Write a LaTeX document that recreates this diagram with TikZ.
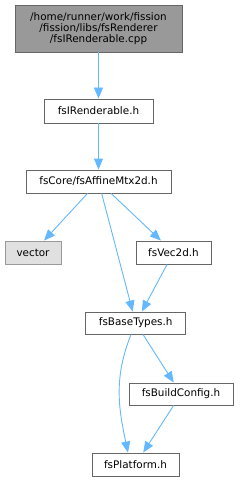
\documentclass[tikz,border=0pt]{standalone}
\usepackage{fontspec}
\setmainfont{DejaVu Sans}
\usetikzlibrary{arrows.meta,positioning}
\definecolor{edgeblue}{HTML}{63B8FF}
\definecolor{boxline}{HTML}{666666}
\begin{document}
\begin{tikzpicture}[
  x=1pt, y=-1pt,
  font=\fontsize{10.4}{11}\selectfont,
  node distance=0.38cm,
  file/.style={draw=boxline, fill=white, line width=0.9pt, align=center,
               inner sep=0pt, minimum height=23pt},
  sys/.style={file, draw=black!40, fill=black!12},
  edge/.style={draw=edgeblue, line width=0.9pt, -{Triangle[length=11pt,width=9pt]}}
]
\useasboundingbox (0,0) rectangle (239,481);
\node[file, fill=black!40, minimum width=167pt, minimum height=47pt] (src) at (98.5,28.5)
  {/home/runner/work/fission\\/fission/libs/fsRenderer\\/fsIRenderable.cpp};
\node[file, minimum width=109pt, minimum height=24pt] (irend) at (98.5,111) {fsIRenderable.h};
\node[file, minimum width=145pt] (mtx) at (98.5,181.5) {fsCore/fsAffineMtx2d.h};
\node[sys, minimum width=56pt] (vec) at (33,252.5) {vector};
\node[file, minimum width=75pt] (vec2d) at (173.5,252.5) {fsVec2d.h};
\node[file, minimum width=100pt, minimum height=22pt] (base) at (135.7,323) {fsBaseTypes.h};
\node[file, minimum width=104pt, minimum height=22pt] (cfg) at (181,394) {fsBuildConfig.h};
\node[file, minimum width=87pt] (plat) at (135.5,464.5) {fsPlatform.h};
\draw[edge] (src) -- (irend);
\draw[edge] (irend) -- (mtx);
\draw[edge] (mtx) -- (vec);
\draw[edge] (mtx) -- (base);
\draw[edge] (mtx) -- (vec2d);
\draw[edge] (vec2d) -- (base);
\draw[edge] (base) -- (cfg);
\draw[edge] (base) to[out=-112, in=102] ([xshift=-7.5pt]plat.north);
\draw[edge] (cfg) -- (plat);
\end{tikzpicture}
\end{document}
